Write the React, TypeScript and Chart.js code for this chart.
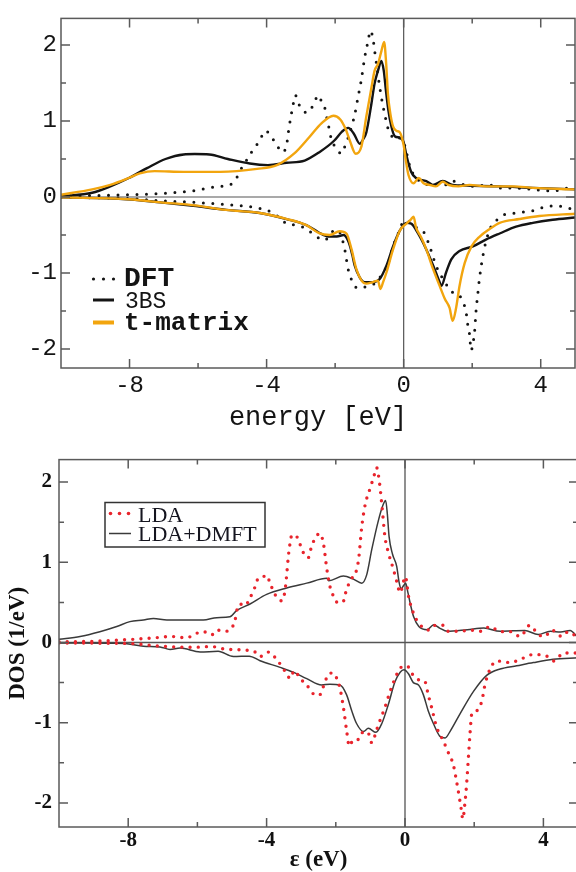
import React, { useEffect, useRef } from "react";
import { Chart, registerables } from "chart.js";

Chart.register(...registerables);

type P = [number, number];

// ---------- axes ----------
const energyTicks = [-8, -4, 0, 4];
const energyMinorTicks = [-6, -2, 2];
const dosTicks = [-2, -1, 0, 1, 2];
const dosMinorTicks = [-1.5, -0.5, 0.5, 1.5];
const topSeriesNames = ["DFT", "3BS", "t-matrix"];
const bottomSeriesNames = ["LDA", "LDA+DMFT"];

// ---------- top panel: [energy eV, DOS] ----------
const dftUp: P[] = [
  [-10, 0.01], [-9, 0.02], [-8, 0.03], [-7.1, 0.045], [-6.1, 0.085], [-5.4, 0.14], [-5.07, 0.16], [-4.88, 0.25],
  [-4.73, 0.38], [-4.59, 0.48], [-4.44, 0.59], [-4.3, 0.68], [-4.2, 0.74], [-4.05, 0.87], [-3.91, 0.83], [-3.81, 0.76],
  [-3.67, 0.66], [-3.54, 0.59], [-3.42, 0.68], [-3.34, 0.93], [-3.27, 1.11], [-3.22, 1.23], [-3.16, 1.34], [-3.07, 1.23],
  [-2.97, 1.17], [-2.84, 1.11], [-2.69, 1.17], [-2.6, 1.26], [-2.48, 1.34], [-2.4, 1.26], [-2.3, 1.17], [-2.25, 1.06],
  [-2.17, 0.89], [-2.11, 0.76], [-1.96, 0.64], [-1.82, 0.57], [-1.72, 0.66], [-1.62, 0.78], [-1.52, 0.93], [-1.43, 1.08],
  [-1.33, 1.32], [-1.24, 1.53], [-1.14, 1.83], [-1.04, 2.05], [-0.97, 2.19], [-0.89, 2.07], [-0.84, 1.9], [-0.78, 1.71],
  [-0.7, 1.45], [-0.6, 1.19], [-0.52, 1.02], [-0.45, 0.89], [-0.36, 0.81], [-0.26, 0.76], [-0.16, 0.78], [-0.07, 0.76],
  [0, 0.72], [0.08, 0.59], [0.12, 0.51], [0.17, 0.42], [0.25, 0.33], [0.31, 0.27], [0.41, 0.23], [0.56, 0.18],
  [0.85, 0.16], [1.24, 0.16], [1.43, 0.21], [1.63, 0.18], [2.02, 0.14], [2.5, 0.16], [2.8, 0.12], [3.18, 0.12],
  [3.77, 0.1], [4.35, 0.08], [4.84, 0.12], [5, 0.1],
];
const dftDown: P[] = [
  [-10, -0.005], [-9, -0.01], [-8, -0.02], [-7.1, -0.05], [-6.1, -0.07], [-5.2, -0.1], [-4.6, -0.12], [-4.2, -0.15],
  [-4.0, -0.17], [-3.8, -0.22], [-3.62, -0.27], [-3.42, -0.35], [-3.13, -0.37], [-2.84, -0.42], [-2.55, -0.52],
  [-2.3, -0.57], [-2.16, -0.5], [-2.0, -0.43], [-1.87, -0.46], [-1.72, -0.69], [-1.62, -0.95], [-1.49, -1.12],
  [-1.34, -1.2], [-1.2, -1.19], [-1.0, -1.17], [-0.8, -1.12], [-0.6, -0.99], [-0.45, -0.87], [-0.31, -0.65],
  [-0.16, -0.48], [-0.07, -0.37], [0.03, -0.31], [0.17, -0.33], [0.31, -0.39], [0.47, -0.42], [0.61, -0.48],
  [0.76, -0.65], [0.95, -0.91], [1.15, -1.08], [1.34, -1.21], [1.53, -1.29], [1.63, -1.3], [1.73, -1.38],
  [1.82, -1.51], [1.87, -1.68], [1.92, -1.8], [1.97, -2.02], [2.02, -1.93], [2.07, -1.77], [2.11, -1.51],
  [2.16, -1.29], [2.21, -1.08], [2.31, -0.78], [2.41, -0.57], [2.55, -0.39], [2.7, -0.31], [2.89, -0.24],
  [3.28, -0.21], [3.77, -0.18], [4.25, -0.12], [4.54, -0.12], [4.84, -0.15], [5, -0.14],
];
const threeBsUp: P[] = [
  [-10, 0.01], [-9.09, 0.056], [-8.56, 0.14], [-8.02, 0.25], [-7.49, 0.38], [-6.95, 0.5], [-6.42, 0.56], [-6.1, 0.565],
  [-5.67, 0.56], [-5.13, 0.5], [-4.49, 0.44], [-3.96, 0.42], [-3.42, 0.45], [-2.89, 0.48], [-2.46, 0.59], [-2.03, 0.74],
  [-1.8, 0.86], [-1.62, 0.91], [-1.45, 0.83], [-1.28, 0.7], [-1.18, 0.76], [-1.09, 0.85], [-0.94, 1.23], [-0.85, 1.49],
  [-0.75, 1.66], [-0.65, 1.79], [-0.58, 1.66], [-0.52, 1.41], [-0.45, 1.15], [-0.36, 0.93], [-0.26, 0.8], [-0.11, 0.78],
  [0, 0.72], [0.08, 0.55], [0.22, 0.33], [0.36, 0.25], [0.66, 0.21], [0.85, 0.16], [1.14, 0.21], [1.43, 0.16],
  [1.83, 0.15], [2.8, 0.14], [3.77, 0.12], [5, 0.1],
];
const threeBsDown: P[] = [
  [-10, -0.005], [-8.08, -0.03], [-7.11, -0.07], [-6.14, -0.116], [-5.17, -0.17], [-4.2, -0.21], [-3.42, -0.29],
  [-2.84, -0.37], [-2.5, -0.46], [-2.2, -0.52], [-1.95, -0.52], [-1.75, -0.5], [-1.6, -0.6], [-1.5, -0.76],
  [-1.43, -0.9], [-1.28, -1.06], [-1.14, -1.12], [-0.9, -1.12], [-0.7, -1.08], [-0.5, -0.9], [-0.31, -0.65],
  [-0.11, -0.44], [0.08, -0.34], [0.22, -0.35], [0.42, -0.48], [0.66, -0.69], [0.86, -0.9], [1.05, -1.12],
  [1.1, -1.17], [1.24, -0.99], [1.39, -0.82], [1.63, -0.71], [2.02, -0.65], [2.4, -0.56], [2.8, -0.48],
  [3.28, -0.39], [3.77, -0.34], [4.35, -0.3], [5, -0.27],
];
const tMatrixUp: P[] = [
  [-10, 0.03], [-9.09, 0.1], [-8.56, 0.16], [-8.02, 0.25], [-7.7, 0.31], [-7.27, 0.34], [-6.42, 0.33], [-5.35, 0.33],
  [-4.28, 0.37], [-3.7, 0.42], [-3.2, 0.57], [-2.75, 0.79], [-2.4, 0.97], [-2.05, 1.07], [-1.85, 1.02], [-1.7, 0.9],
  [-1.57, 0.74], [-1.4, 0.57], [-1.23, 0.67], [-1.09, 1.06], [-0.94, 1.44], [-0.85, 1.66], [-0.75, 1.75], [-0.65, 1.92],
  [-0.57, 2.04], [-0.51, 1.75], [-0.46, 1.36], [-0.39, 1.1], [-0.31, 0.93], [-0.21, 0.87], [-0.11, 0.85], [0, 0.68],
  [0.07, 0.46], [0.14, 0.29], [0.29, 0.18], [0.44, 0.25], [0.58, 0.18], [0.75, 0.16], [0.94, 0.14], [1.14, 0.2],
  [1.3, 0.16], [1.6, 0.14], [1.92, 0.16], [2.4, 0.14], [3.2, 0.14], [3.77, 0.12], [5, 0.1],
];
const tMatrixDown: P[] = [
  [-10, -0.005], [-8, -0.03], [-7.1, -0.07], [-6.1, -0.11], [-5.2, -0.17], [-4.2, -0.21], [-3.4, -0.29], [-2.84, -0.37],
  [-2.45, -0.48], [-2.16, -0.5], [-1.87, -0.45], [-1.67, -0.48], [-1.52, -0.69], [-1.38, -0.95], [-1.23, -1.1],
  [-1.09, -1.14], [-0.9, -1.12], [-0.75, -1.1], [-0.68, -1.21], [-0.6, -1.12], [-0.5, -0.99], [-0.31, -0.69],
  [-0.11, -0.44], [0.08, -0.35], [0.22, -0.29], [0.29, -0.26], [0.36, -0.4], [0.51, -0.53], [0.66, -0.69],
  [0.86, -0.95], [1.05, -1.17], [1.2, -1.34], [1.34, -1.46], [1.43, -1.63], [1.53, -1.46], [1.63, -1.17],
  [1.78, -0.87], [1.98, -0.65], [2.22, -0.52], [2.51, -0.42], [2.8, -0.34], [3.38, -0.29], [3.96, -0.25], [5, -0.22],
];

// ---------- bottom panel ----------
const ldaUp: P[] = [
  [-10, 0.01], [-9, 0.015], [-8.04, 0.035], [-7.18, 0.06], [-6.79, 0.075], [-6.31, 0.06], [-6.02, 0.115], [-5.83, 0.135],
  [-5.59, 0.095], [-5.44, 0.155], [-5.2, 0.14], [-5.01, 0.18], [-4.91, 0.28], [-4.86, 0.4], [-4.77, 0.48], [-4.62, 0.46],
  [-4.48, 0.56], [-4.38, 0.64], [-4.24, 0.8], [-4.1, 0.82], [-4.0, 0.84], [-3.9, 0.74], [-3.76, 0.6], [-3.56, 0.52],
  [-3.47, 0.64], [-3.42, 0.84], [-3.37, 1.08], [-3.32, 1.24], [-3.27, 1.34], [-3.13, 1.32], [-3.03, 1.22], [-2.89, 1.08],
  [-2.79, 1.06], [-2.7, 1.2], [-2.55, 1.33], [-2.46, 1.36], [-2.36, 1.24], [-2.26, 0.92], [-2.17, 0.7], [-2.07, 0.58],
  [-1.95, 0.5], [-1.8, 0.5], [-1.69, 0.66], [-1.54, 0.8], [-1.44, 0.85], [-1.34, 1.04], [-1.25, 1.44], [-1.15, 1.72],
  [-1.01, 1.92], [-0.9, 2.07], [-0.82, 2.18], [-0.74, 2.0], [-0.67, 1.72], [-0.58, 1.32], [-0.48, 1.12], [-0.34, 0.92],
  [-0.24, 0.76], [-0.14, 0.62], [0.01, 0.82], [0.11, 0.56], [0.25, 0.36], [0.4, 0.24], [0.69, 0.155], [0.88, 0.215],
  [1.12, 0.215], [1.25, 0.14], [1.6, 0.14], [1.88, 0.155], [2.2, 0.14], [2.46, 0.2], [2.75, 0.135], [3.05, 0.135],
  [3.33, 0.075], [3.61, 0.215], [3.85, 0.1], [4.04, 0.075], [4.24, 0.155], [4.53, 0.075], [4.72, 0.135], [5, 0.055],
];
const ldaDown: P[] = [
  [-10, -0.005], [-8.5, -0.01], [-7.85, -0.015], [-7.08, -0.046], [-6.12, -0.06], [-5.6, -0.05], [-5.15, -0.086],
  [-4.38, -0.106], [-4.19, -0.175], [-3.95, -0.12], [-3.71, -0.21], [-3.42, -0.39], [-3.32, -0.45], [-3.2, -0.35],
  [-3.03, -0.45], [-2.84, -0.53], [-2.65, -0.64], [-2.48, -0.66], [-2.36, -0.55], [-2.2, -0.39], [-2.08, -0.38],
  [-1.97, -0.45], [-1.88, -0.57], [-1.78, -0.81], [-1.69, -1.09], [-1.61, -1.29], [-1.49, -1.21], [-1.35, -1.21],
  [-1.2, -1.11], [-1.06, -1.13], [-0.96, -1.25], [-0.82, -1.09], [-0.72, -0.97], [-0.58, -0.81], [-0.43, -0.61],
  [-0.29, -0.45], [-0.14, -0.32], [0.05, -0.29], [0.24, -0.41], [0.43, -0.47], [0.58, -0.49], [0.67, -0.65],
  [0.77, -0.81], [0.91, -1.05], [1.11, -1.23], [1.25, -1.37], [1.4, -1.53], [1.49, -1.73], [1.57, -1.93],
  [1.63, -2.09], [1.67, -2.2], [1.73, -2.01], [1.78, -1.77], [1.83, -1.45], [1.88, -1.13], [1.93, -0.89],
  [2.07, -0.85], [2.22, -0.73], [2.31, -0.53], [2.46, -0.33], [2.65, -0.23], [3.04, -0.25], [3.33, -0.21],
  [3.71, -0.15], [4.1, -0.17], [4.3, -0.23], [4.59, -0.13], [5, -0.13],
];
const dmftUp: P[] = [
  [-10, 0.04], [-9.39, 0.075], [-8.82, 0.135], [-8.33, 0.2], [-7.95, 0.26], [-7.56, 0.28], [-7.27, 0.3], [-6.88, 0.28],
  [-6.12, 0.28], [-5.83, 0.28], [-5.44, 0.31], [-5.06, 0.32], [-4.86, 0.4], [-4.48, 0.48], [-4.0, 0.6], [-3.42, 0.68],
  [-2.84, 0.74], [-2.26, 0.8], [-2.2, 0.77], [-1.78, 0.83], [-1.49, 0.79], [-1.25, 0.74], [-1.11, 0.84], [-0.96, 1.16],
  [-0.77, 1.52], [-0.63, 1.72], [-0.56, 1.77], [-0.51, 1.6], [-0.46, 1.32], [-0.36, 1.1], [-0.24, 0.95], [-0.17, 0.75],
  [-0.11, 0.67], [-0.04, 0.71], [0.02, 0.74], [0.08, 0.63], [0.16, 0.47], [0.25, 0.32], [0.4, 0.2], [0.64, 0.16],
  [0.83, 0.22], [1.0, 0.18], [1.22, 0.14], [1.8, 0.16], [2.28, 0.18], [2.75, 0.14], [3.46, 0.15], [3.85, 0.1],
  [4.2, 0.14], [4.5, 0.13], [4.77, 0.15], [5, 0.06],
];
const dmftDown: P[] = [
  [-10, -0.005], [-8.5, -0.01], [-8.04, -0.015], [-7.56, -0.046], [-7.08, -0.055], [-6.79, -0.087], [-6.5, -0.07],
  [-5.92, -0.118], [-5.4, -0.11], [-4.96, -0.175], [-4.5, -0.17], [-4.19, -0.227], [-3.61, -0.31], [-3.23, -0.37],
  [-2.84, -0.45], [-2.41, -0.53], [-2.17, -0.52], [-1.88, -0.53], [-1.69, -0.65], [-1.54, -0.85], [-1.4, -1.01],
  [-1.2, -1.11], [-1.06, -1.07], [-0.84, -1.12], [-0.67, -1.01], [-0.48, -0.77], [-0.29, -0.49], [-0.14, -0.37],
  [-0.03, -0.34], [0.1, -0.39], [0.24, -0.5], [0.39, -0.53], [0.53, -0.65], [0.67, -0.85], [0.82, -1.01],
  [1.01, -1.17], [1.16, -1.19], [1.3, -1.11], [1.59, -0.89], [1.98, -0.61], [2.36, -0.41], [2.75, -0.33],
  [3.23, -0.29], [3.71, -0.25], [4.28, -0.21], [5, -0.19],
];

// ---------- styles ----------
const MONO = "'Liberation Mono', 'DejaVu Sans Mono', monospace";
const SERIF = "'Liberation Serif', 'DejaVu Serif', serif";
const BLACK = "#141414";
const ORANGE = "#f2a50e";
const RED = "#e8242c";
const GREY = "#3a3a3a";

const toXY = (arr: P[]) => arr.map(([x, y]) => ({ x, y }));

function framePlugin(o: {
  frameColor: string;
  frameWidth: number;
  zeroColor: string;
  zeroWidth: number;
  majLen: number;
  minLen: number;
  legend: (ctx: CanvasRenderingContext2D) => void;
}) {
  return {
    id: "frame",
    beforeDatasetsDraw(chart: any) {
      const { ctx, chartArea: a, scales } = chart;
      const x0 = scales.x.getPixelForValue(0);
      const y0 = scales.y.getPixelForValue(0);
      ctx.save();
      ctx.strokeStyle = o.zeroColor;
      ctx.lineWidth = o.zeroWidth;
      ctx.beginPath();
      ctx.moveTo(x0, a.top);
      ctx.lineTo(x0, a.bottom);
      ctx.moveTo(a.left, y0);
      ctx.lineTo(a.right, y0);
      ctx.stroke();
      ctx.restore();
    },
    afterDatasetsDraw(chart: any) {
      const { ctx, chartArea: a, scales } = chart;
      const xs = scales.x;
      const ys = scales.y;
      ctx.save();
      ctx.strokeStyle = o.frameColor;
      ctx.lineWidth = o.frameWidth;
      ctx.strokeRect(a.left, a.top, a.right - a.left, a.bottom - a.top);
      ctx.beginPath();
      const vt = (v: number, len: number) => {
        const p = xs.getPixelForValue(v);
        ctx.moveTo(p, a.bottom);
        ctx.lineTo(p, a.bottom - len);
        ctx.moveTo(p, a.top);
        ctx.lineTo(p, a.top + len);
      };
      const ht = (v: number, len: number) => {
        const p = ys.getPixelForValue(v);
        ctx.moveTo(a.left, p);
        ctx.lineTo(a.left + len, p);
        ctx.moveTo(a.right, p);
        ctx.lineTo(a.right - len, p);
      };
      energyTicks.forEach((v) => vt(v, o.majLen));
      energyMinorTicks.forEach((v) => vt(v, o.minLen));
      dosTicks.forEach((v) => ht(v, o.majLen));
      dosMinorTicks.forEach((v) => ht(v, o.minLen));
      ctx.stroke();
      ctx.restore();
    },
    afterDraw(chart: any) {
      o.legend(chart.ctx);
    },
  };
}

const dot = (ctx: CanvasRenderingContext2D, x: number, y: number, r: number) => {
  ctx.beginPath();
  ctx.arc(x, y, r, 0, Math.PI * 2);
  ctx.fill();
};

function topLegend(ctx: CanvasRenderingContext2D) {
  ctx.save();
  ctx.textAlign = "left";
  ctx.textBaseline = "middle";
  ctx.fillStyle = BLACK;
  [93.5, 103.5, 113.5].forEach((x) => dot(ctx, x, 279, 1.6));
  ctx.font = `bold 28px ${MONO}`;
  ctx.fillText(topSeriesNames[0], 124, 279);
  ctx.lineCap = "butt";
  ctx.strokeStyle = BLACK;
  ctx.lineWidth = 3;
  ctx.beginPath();
  ctx.moveTo(93, 300);
  ctx.lineTo(114, 300);
  ctx.stroke();
  ctx.font = `23px ${MONO}`;
  ctx.fillText(topSeriesNames[1], 125, 302);
  ctx.strokeStyle = ORANGE;
  ctx.lineWidth = 4;
  ctx.beginPath();
  ctx.moveTo(93, 322.5);
  ctx.lineTo(114, 322.5);
  ctx.stroke();
  ctx.font = `bold 26px ${MONO}`;
  ctx.fillText(topSeriesNames[2], 124, 323);
  ctx.restore();
}

function bottomLegend(ctx: CanvasRenderingContext2D) {
  ctx.save();
  ctx.strokeStyle = "#333";
  ctx.lineWidth = 1.5;
  ctx.strokeRect(105, 62.5, 160, 44.5);
  ctx.fillStyle = RED;
  [110.5, 119.5, 128.5].forEach((x) => dot(ctx, x, 73.5, 1.8));
  ctx.strokeStyle = GREY;
  ctx.lineWidth = 1.5;
  ctx.beginPath();
  ctx.moveTo(109, 93.5);
  ctx.lineTo(131, 93.5);
  ctx.stroke();
  ctx.fillStyle = "#15151f";
  ctx.textAlign = "left";
  ctx.textBaseline = "middle";
  ctx.font = `22px ${SERIF}`;
  ctx.fillText(bottomSeriesNames[0], 138, 76);
  ctx.fillText(bottomSeriesNames[1], 138, 95);
  ctx.restore();
}

function lineDs(label: string, data: P[], color: string, width: number, order: number, dash?: number[]) {
  return {
    label,
    data: toXY(data),
    borderColor: color,
    backgroundColor: color,
    borderWidth: width,
    borderDash: dash || [],
    borderCapStyle: dash ? "round" : "butt",
    borderJoinStyle: "round",
    pointRadius: 0,
    fill: false,
    cubicInterpolationMode: "monotone",
    order,
  };
}

function topConfig(): any {
  const tickFont = { family: MONO, size: 24 };
  return {
    type: "line",
    data: {
      datasets: [
        lineDs(topSeriesNames[2], tMatrixUp, ORANGE, 2.4, 0),
        lineDs(topSeriesNames[2], tMatrixDown, ORANGE, 2.4, 0),
        lineDs(topSeriesNames[1], threeBsUp, BLACK, 2.4, 1),
        lineDs(topSeriesNames[1], threeBsDown, BLACK, 2.4, 1),
        lineDs(topSeriesNames[0], dftUp, BLACK, 3, 2, [0, 9.5]),
        lineDs(topSeriesNames[0], dftDown, BLACK, 3, 2, [0, 9.5]),
      ],
    },
    options: {
      responsive: false,
      animation: false,
      devicePixelRatio: 1,
      events: [],
      layout: { padding: { top: 10, right: 1, left: 0, bottom: 0 } },
      plugins: { legend: { display: false }, tooltip: { enabled: false } },
      scales: {
        x: {
          type: "linear",
          min: -10,
          max: 5,
          afterBuildTicks: (s: any) => {
            s.ticks = energyTicks.map((value) => ({ value }));
          },
          afterFit: (s: any) => {
            s.height = 72;
          },
          grid: { display: false, drawTicks: false },
          border: { display: false },
          ticks: { font: tickFont, color: BLACK, padding: 3, maxRotation: 0, autoSkip: false, callback: (v: number) => String(v) },
          title: { display: true, text: "energy [eV]", color: BLACK, font: { family: MONO, size: 27 }, padding: { top: 0, bottom: 6 } },
        },
        y: {
          type: "linear",
          min: -2.25,
          max: 2.35,
          afterBuildTicks: (s: any) => {
            s.ticks = dosTicks.map((value) => ({ value }));
          },
          afterFit: (s: any) => {
            s.width = 61;
          },
          grid: { display: false, drawTicks: false },
          border: { display: false },
          ticks: { font: tickFont, color: BLACK, padding: 4, autoSkip: false, callback: (v: number) => String(v) },
        },
      },
    },
    plugins: [
      framePlugin({ frameColor: "#5a5a5a", frameWidth: 1.5, zeroColor: "#555", zeroWidth: 1.2, majLen: 9, minLen: 5, legend: topLegend }),
    ],
  };
}

function bottomConfig(): any {
  const tickFont = { family: SERIF, size: 21, weight: "bold" };
  return {
    type: "line",
    data: {
      datasets: [
        lineDs(bottomSeriesNames[0], ldaUp, RED, 3.4, 0, [0, 8.2]),
        lineDs(bottomSeriesNames[0], ldaDown, RED, 3.4, 0, [0, 8.2]),
        lineDs(bottomSeriesNames[1], dmftUp, GREY, 1.5, 1),
        lineDs(bottomSeriesNames[1], dmftDown, GREY, 1.5, 1),
      ],
    },
    options: {
      responsive: false,
      animation: false,
      devicePixelRatio: 1,
      events: [],
      layout: { padding: { top: 7, right: 2, left: 0, bottom: 0 } },
      plugins: { legend: { display: false }, tooltip: { enabled: false } },
      scales: {
        x: {
          type: "linear",
          min: -10,
          max: 5,
          afterBuildTicks: (s: any) => {
            s.ticks = energyTicks.map((value) => ({ value }));
          },
          afterFit: (s: any) => {
            s.height = 45;
          },
          grid: { display: false, drawTicks: false },
          border: { display: false },
          ticks: { font: tickFont, color: "#111", padding: 1, maxRotation: 0, autoSkip: false, callback: (v: number) => String(v) },
          title: { display: true, text: "ε (eV)", color: "#111", font: { family: SERIF, size: 23, weight: "bold", lineHeight: 1 }, padding: { top: 0, bottom: 0 } },
        },
        y: {
          type: "linear",
          min: -2.3,
          max: 2.28,
          afterBuildTicks: (s: any) => {
            s.ticks = dosTicks.map((value) => ({ value }));
          },
          afterFit: (s: any) => {
            s.width = 59;
          },
          grid: { display: false, drawTicks: false },
          border: { display: false },
          ticks: { font: tickFont, color: "#111", padding: 7, autoSkip: false, callback: (v: number) => String(v) },
          title: { display: true, text: "DOS (1/eV)", color: "#111", font: { family: SERIF, size: 23, weight: "bold" }, padding: { top: 4, bottom: 0 } },
        },
      },
    },
    plugins: [
      framePlugin({ frameColor: "#5a5a5a", frameWidth: 1.5, zeroColor: "#555", zeroWidth: 1.3, majLen: 9, minLen: 5, legend: bottomLegend }),
    ],
  };
}

export default function App() {
  const topRef = useRef<HTMLCanvasElement>(null);
  const botRef = useRef<HTMLCanvasElement>(null);
  useEffect(() => {
    const top = new Chart(topRef.current as HTMLCanvasElement, topConfig());
    const bot = new Chart(botRef.current as HTMLCanvasElement, bottomConfig());
    return () => {
      top.destroy();
      bot.destroy();
    };
  }, []);
  return (
    <div style={{ position: "absolute", left: 0, top: 0, width: 576, height: 872, overflow: "hidden", background: "#fff" }}>
      <canvas ref={topRef} width={576} height={440} style={{ position: "absolute", left: 0, top: 0, width: 576, height: 440 }} />
      <canvas ref={botRef} width={580} height={432} style={{ position: "absolute", left: 0, top: 440, width: 580, height: 432 }} />
    </div>
  );
}
